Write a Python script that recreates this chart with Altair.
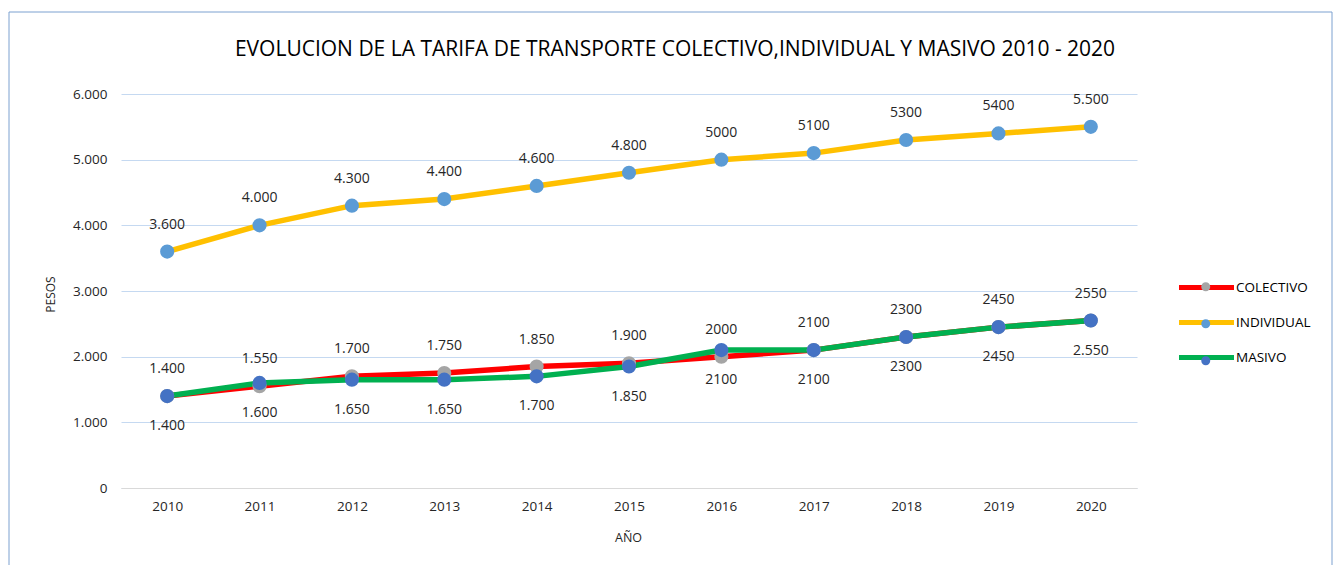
import altair as alt
import pandas as pd

years = ["2010", "2011", "2012", "2013", "2014", "2015", "2016", "2017", "2018", "2019", "2020"]
series = ["COLECTIVO", "INDIVIDUAL", "MASIVO"]

colectivo = [1400, 1550, 1700, 1750, 1850, 1900, 2000, 2100, 2300, 2450, 2550]
individual = [3600, 4000, 4300, 4400, 4600, 4800, 5000, 5100, 5300, 5400, 5500]
masivo = [1400, 1600, 1650, 1650, 1700, 1850, 2100, 2100, 2300, 2450, 2550]

colectivo_labels = ["1.400", "1.550", "1.700", "1.750", "1.850", "1.900", "2000", "2100", "2300", "2450", "2550"]
individual_labels = ["3.600", "4.000", "4.300", "4.400", "4.600", "4.800", "5000", "5100", "5300", "5400", "5.500"]
masivo_labels = ["1.400", "1.600", "1.650", "1.650", "1.700", "1.850", "2100", "2100", "2300", "2450", "2.550"]

y_ticks = [0, 1000, 2000, 3000, 4000, 5000, 6000]

line_colors = ["#FF0000", "#FFC000", "#00B050"]
marker_colors = ["#A5A5A5", "#5B9BD5", "#4472C4"]

rows = []
for name, vals, labs in [("COLECTIVO", colectivo, colectivo_labels),
                         ("INDIVIDUAL", individual, individual_labels),
                         ("MASIVO", masivo, masivo_labels)]:
    for yr, v, lb in zip(years, vals, labs):
        rows.append({"year": yr, "value": v, "serie": name, "label": lb})
df = pd.DataFrame(rows)

FONT = "Open Sans"
TXT = "#262626"

x_enc = alt.X("year:O", scale=alt.Scale(type="point", padding=0.5),
              axis=alt.Axis(title="AÑO", labelAngle=0, ticks=False, domainColor="#D9D9D9",
                            labelPadding=11, labelFontSize=13.5, labelColor=TXT, labelFont=FONT,
                            titleFont=FONT, titleFontSize=12.5, titleFontWeight="normal", titleColor=TXT,
                            titleX=507, titleY=49, titleBaseline="middle", grid=False))
y_enc = alt.Y("value:Q", scale=alt.Scale(domain=[0, 6000], nice=False),
              axis=alt.Axis(title="PESOS", values=y_ticks, ticks=False, domain=False,
                            gridColor="#C5D9F1", labelPadding=14, labelFontSize=13.5, labelColor=TXT,
                            labelFont=FONT,
                            labelExpr="replace(format(datum.value, ','), ',', '.')",
                            titleFont=FONT, titleFontSize=12, titleFontWeight="normal", titleColor=TXT,
                            titleX=-71, titleY=200, titleBaseline="middle"))

base = alt.Chart(df)

border = alt.Chart(pd.DataFrame({"a": [0]})).mark_rect(
    filled=False, fill="transparent", stroke="#7DA1D0", strokeWidth=1
).encode(x=alt.value(-112), x2=alt.value(1211), y=alt.value(-82), y2=alt.value(520))

lines = base.mark_line(strokeWidth=5.5).encode(
    x=x_enc, y=y_enc,
    stroke=alt.Stroke("serie:N", scale=alt.Scale(domain=series, range=line_colors),
                      legend=alt.Legend(title=None, orient="none", legendX=1078, legendY=186,
                                        symbolType="M-5.5,0H5.5", symbolSize=100,
                                        symbolStrokeWidth=5, labelOffset=22, labelFontSize=13.5,
                                        labelFont=FONT, labelColor="#000000", rowPadding=14,
                                        padding=0)),
    order=alt.Order("year:O"),
)

points = base.mark_point(filled=True, size=200, opacity=1).encode(
    x=x_enc, y=y_enc,
    fill=alt.Fill("serie:N", scale=alt.Scale(range=marker_colors),
                  legend=alt.Legend(title=None, orient="none", legendX=1078, legendY=186,
                                    symbolType="M0.9,0A0.9,0.9,0,1,1,-0.9,0A0.9,0.9,0,1,1,0.9,0Z",
                                    symbolSize=100, symbolStrokeWidth=0, labelOffset=22,
                                    labelFontSize=13.5, labelFont=FONT, labelExpr="''",
                                    rowPadding=22, padding=0)),
)

labels_above = base.transform_filter(
    alt.FieldOneOfPredicate(field="serie", oneOf=["COLECTIVO", "INDIVIDUAL"])
).mark_text(dy=-27, fontSize=14, font=FONT, color=TXT).encode(x="year:O", y="value:Q", text="label:N")

labels_below = base.transform_filter(
    alt.FieldEqualPredicate(field="serie", equal="MASIVO")
).mark_text(dy=30, fontSize=14, font=FONT, color=TXT).encode(x="year:O", y="value:Q", text="label:N")

chart = alt.layer(border, lines, points, labels_above, labels_below).properties(
    width=1016, height=394,
    background="white",
    title=alt.TitleParams("EVOLUCION DE LA TARIFA DE TRANSPORTE COLECTIVO,INDIVIDUAL Y MASIVO 2010 - 2020",
                          font=FONT, fontSize=21, fontWeight="normal", color="#000000",
                          anchor="middle", frame="group", dx=46, dy=48, offset=0),
    autosize=alt.AutoSizeParams(type="none"),
    padding={"left": 113, "top": 86, "right": 196, "bottom": 77},
).configure_view(
    stroke="transparent", strokeWidth=0
).configure_axisX(
    grid=False
).configure_axisY(
    domain=False
)

chart.save("out.html", embed_options={"renderer": "svg", "actions": False})
